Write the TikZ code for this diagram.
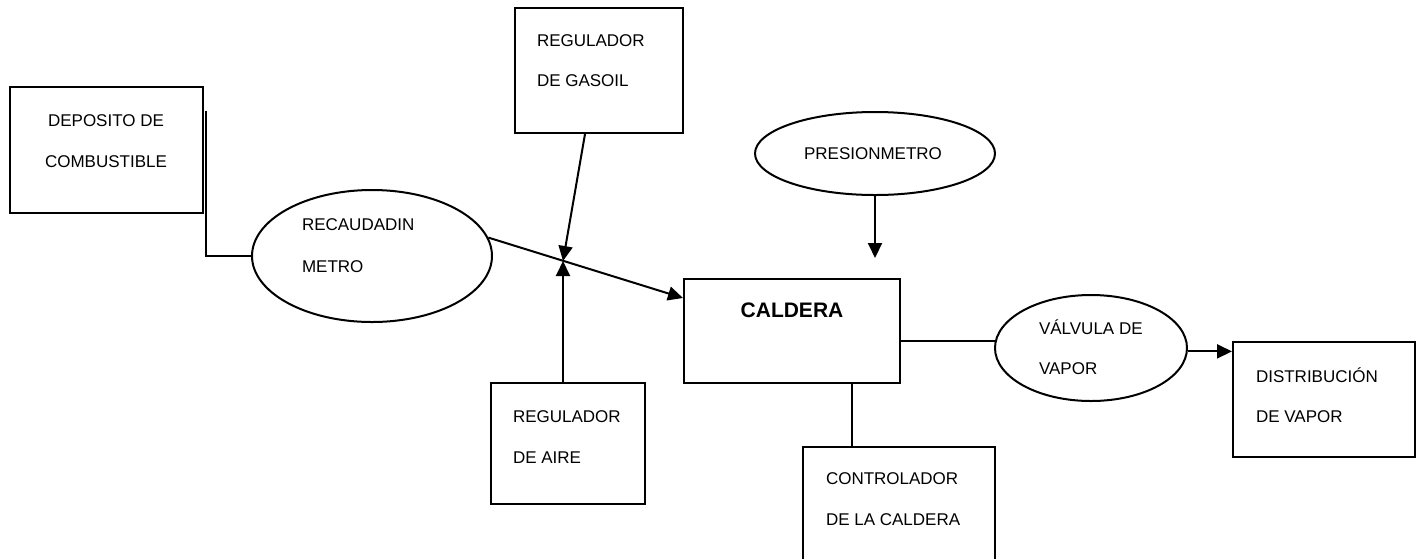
\documentclass[tikz,border=0pt]{standalone}
\usepackage{fontspec}
\setmainfont{Liberation Sans}
\usetikzlibrary{shapes.geometric,arrows.meta}
\tikzset{
  blk/.style={draw, rectangle, inner sep=0pt},
  oval/.style={draw, ellipse, inner sep=0pt},
  lbl/.style={inner sep=0pt, font=\fontsize{17}{20}\selectfont},
  lblw/.style={lbl, anchor=west},
  arr/.style={-{Triangle[length=15pt,width=14pt]}},
}
\begin{document}
\begin{tikzpicture}[x=1pt,y=-1pt,line width=2pt]
\clip (0,0) rectangle (1418,558);
\fill[white] (0,0) rectangle (1418,558);
% boxes
\node[blk, minimum width=193pt, minimum height=126pt] (dep) at (106.5,150) {};
\node[blk, minimum width=168pt, minimum height=125pt] (gas) at (599,70.5) {};
\node[blk, minimum width=154pt, minimum height=121pt] (aire) at (568,443.5) {};
\node[blk, minimum width=216pt, minimum height=104pt] (cal) at (792,331) {};
\node[blk, minimum width=192pt, minimum height=128pt] (ctl) at (899,511) {};
\node[blk, minimum width=182pt, minimum height=115pt] (dist) at (1324,399.5) {};
% ellipses
\node[oval, minimum width=240pt, minimum height=132pt] (rec) at (372,256) {};
\node[oval, minimum width=240pt, minimum height=83pt] (pres) at (875,153.5) {};
\node[oval, minimum width=192pt, minimum height=106pt] (val) at (1091,348) {};
% texts
\node[lbl] (dep1) at (106,121) {DEPOSITO DE};
\node[lbl] (dep2) at (106,162) {COMBUSTIBLE};
\node[lblw] (gas1) at (536,41) {REGULADOR};
\node[lblw] (gas2) at (536,81) {DE GASOIL};
\node[lblw] (aire1) at (512,416.5) {REGULADOR};
\node[lblw] (aire2) at (512,458) {DE AIRE};
\node[inner sep=0pt, font=\fontsize{21}{24}\selectfont\bfseries] (calt) at (792,310) {CALDERA};
\node[lblw] (ctl1) at (825,479) {CONTROLADOR};
\node[lblw] (ctl2) at (825,520) {DE LA CALDERA};
\node[lblw] (dist1) at (1255,375.5) {DISTRIBUCIÓN};
\node[lblw] (dist2) at (1255,417) {DE VAPOR};
\node[lblw] (rec1) at (301,225) {RECAUDADIN};
\node[lblw] (rec2) at (301,267) {METRO};
\node[lbl] (pres1) at (873,154) {PRESIONMETRO};
\node[lblw] (val1) at (1038,327) {VÁLVULA DE};
\node[lblw] (val2) at (1038,369) {VAPOR};
% connectors
\coordinate (J) at (563,261);
\coordinate (pe) at (875,258);
\draw ([shift={(1.5,25)}]dep.north east) |- (rec.west);
\draw[arr] (rec.9) -- ([yshift=33pt]cal.west);
\draw[arr] ([xshift=-14pt]gas.south) -- (J);
\draw[arr] ([xshift=-5pt]aire.north) -- (J);
\draw[arr] (pres.south) -- (pe);
\draw (cal.east |- val.176) -- (val.176);
\draw[arr] (val.-2) -- (val.-2 -| dist.west);
\draw ([xshift=60pt]cal.south) -- ([xshift=60pt]cal.south |- ctl.north);
\end{tikzpicture}
\end{document}
